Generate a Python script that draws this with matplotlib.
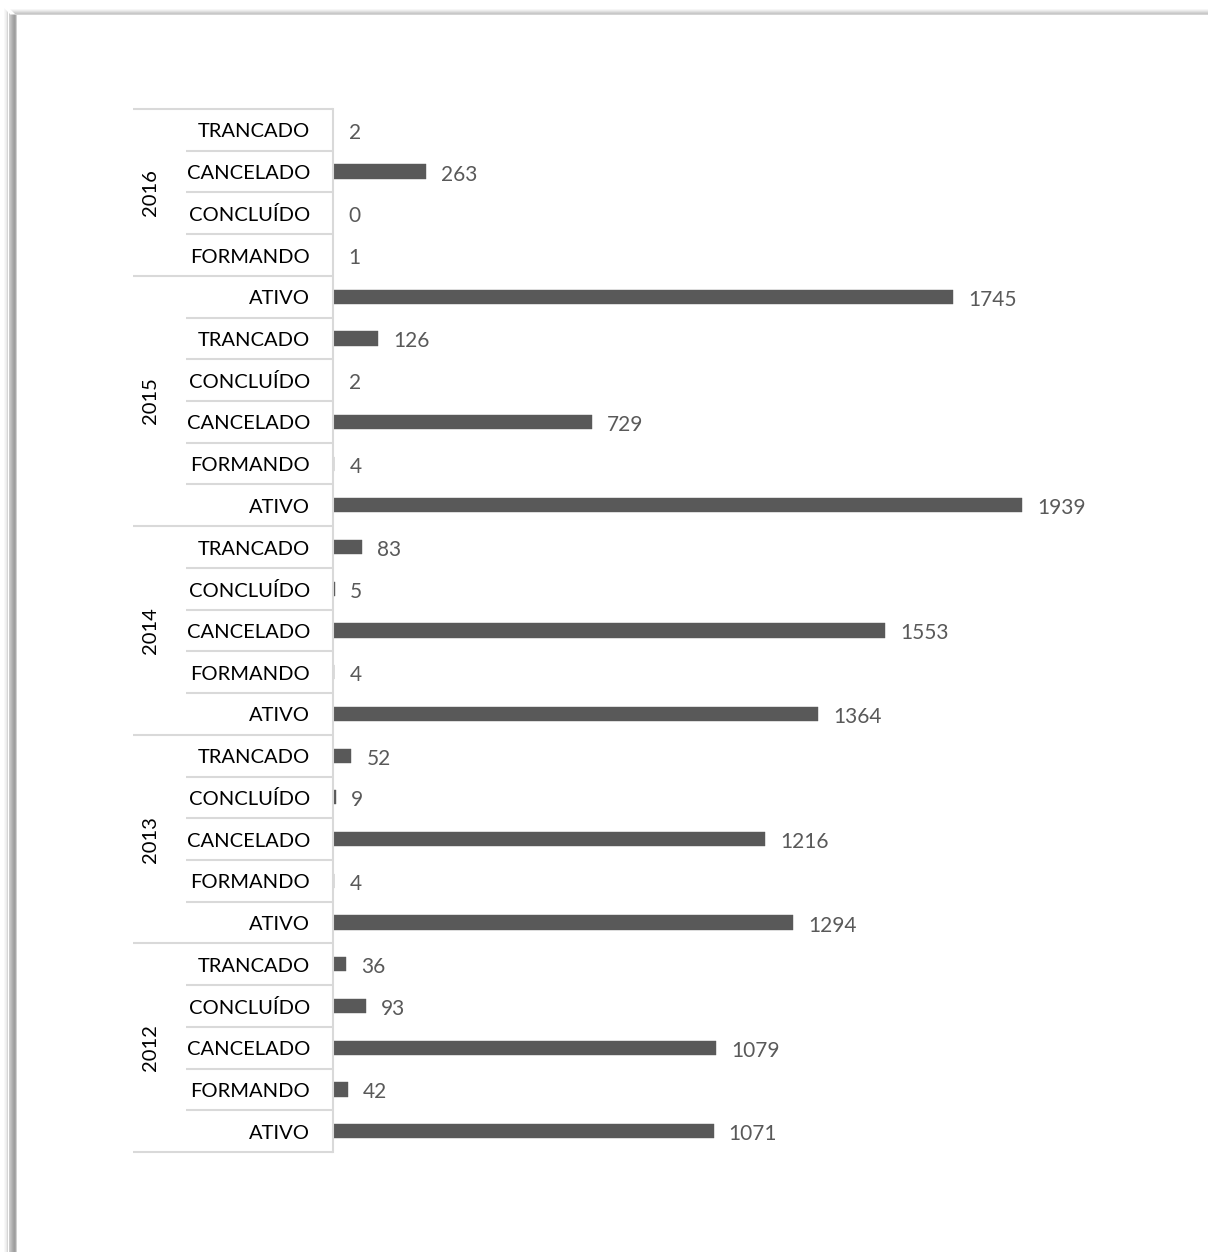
"""Horizontal bar chart of enrolment status by year (Excel-style two-level axis)."""

import matplotlib

matplotlib.use("Agg")
import matplotlib.pyplot as plt
import matplotlib.transforms as mtransforms
from matplotlib.lines import Line2D

# data, top to bottom as in the chart
years = ["2016", "2015", "2014", "2013", "2012"]
group_sizes = [4, 6, 5, 5, 5]
status = [
    "TRANCADO", "CANCELADO", "CONCLUÍDO", "FORMANDO",
    "ATIVO", "TRANCADO", "CONCLUÍDO", "CANCELADO", "FORMANDO", "ATIVO",
    "TRANCADO", "CONCLUÍDO", "CANCELADO", "FORMANDO", "ATIVO",
    "TRANCADO", "CONCLUÍDO", "CANCELADO", "FORMANDO", "ATIVO",
    "TRANCADO", "CONCLUÍDO", "CANCELADO", "FORMANDO", "ATIVO",
]
counts = [
    2, 263, 0, 1,
    1745, 126, 2, 729, 4, 1939,
    83, 5, 1553, 4, 1364,
    52, 9, 1216, 4, 1294,
    36, 93, 1079, 42, 1071,
]

W, H = 1208, 1252
BAR = "#595959"
SEP = "#d9d9d9"
FONT = "Lato"

fig = plt.figure(figsize=(W / 100, H / 100), dpi=100)


def fig_line(xs, ys, color, lw=0.72):
    fig.add_artist(Line2D([x / W for x in xs], [1 - y / H for y in ys], color=color,
                          lw=lw, transform=fig.transFigure, solid_capstyle="butt"))


# frame with a soft shadow on the top and left edges
left_shade = ["#f8f8f8", "#f2f2f2", "#eaeaea", "#e0e0e0", "#d6d6d6", "#cccccc",
              "#c2c2c2", "#b8b8b8", "#adadad", "#a4a4a4", "#9e9e9e", "#a8a8a8",
              "#d0d0d0"]
for i, c in enumerate(left_shade):
    x = 3.5 + i
    fig_line([x, x], [8 + min(i, 6), H], c)
top_shade = ["#f6f6f6", "#ececec", "#e0e0e0", "#d2d2d2", "#c8c8c8", "#d4d4d4"]
for i, c in enumerate(top_shade):
    y = 8.5 + i
    fig_line([10 + i, W], [y, y], c)

left, right, top, bottom = 333, 1186, 109, 1152
ax = fig.add_axes([left / W, 1 - bottom / H, (right - left) / W, (bottom - top) / H])

n = len(counts)
pos = list(range(n))
# a hairline edge keeps the very short bars (4, 5, 9) visible like in Excel
edge_w = [0.3 if v >= 3 else 0 for v in counts]
ax.barh(pos, counts, height=0.34, color=BAR, edgecolor=BAR, linewidth=edge_w)
ax.set_ylim(n - 0.5, -0.5)
ax.set_xlim(0, 2400)
ax.set_xticks([])
ax.set_yticks([])
for side in ("top", "right", "bottom"):
    ax.spines[side].set_visible(False)
ax.spines["left"].set_color(SEP)
ax.spines["left"].set_linewidth(1.5)

px = 1.0 / (right - left)  # one pixel in axes-x units
blend = mtransforms.blended_transform_factory(ax.transAxes, ax.transData)

# value labels
for y, v in zip(pos, counts):
    ax.annotate(str(v), (v, y), xytext=(15, -3), textcoords="offset pixels",
                ha="left", va="center", fontsize=15, color=BAR, family=FONT)

# category labels and separators
for y, name in zip(pos, status):
    ax.annotate(name, (-23 * px, y), xycoords=blend, xytext=(0, -2),
                textcoords="offset pixels", ha="right", va="center",
                fontsize=14.5, color="#000000", family=FONT, annotation_clip=False)

group_edges = [0]
for s in group_sizes:
    group_edges.append(group_edges[-1] + s)

for b in range(n + 1):
    x0 = -200 * px if b in group_edges else -147 * px
    ax.plot([x0, 0], [b - 0.5, b - 0.5], transform=blend, color=SEP, lw=1.5,
            clip_on=False, solid_capstyle="butt")

for yr, g0, g1 in zip(years, group_edges[:-1], group_edges[1:]):
    ax.text(-183 * px, (g0 + g1 - 1) / 2, yr, transform=blend, rotation=90,
            ha="center", va="center", fontsize=14.5, color="#000000", family=FONT)

fig.savefig("out.png", dpi=100, facecolor="white")
